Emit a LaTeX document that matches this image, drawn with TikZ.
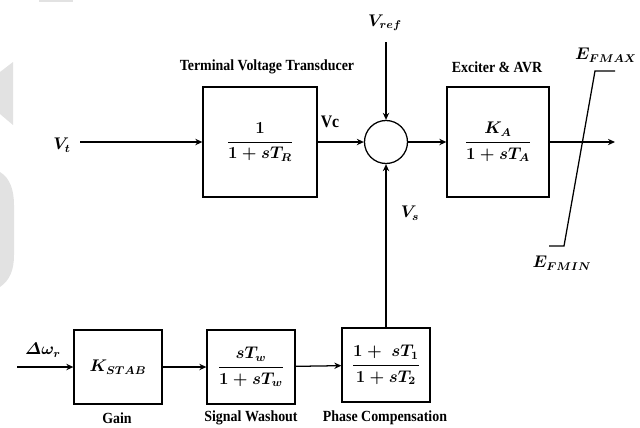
\documentclass[tikz,border=0pt]{standalone}
\usepackage{amsmath}
\usepackage{fontspec}
\setmainfont{Liberation Serif}
\usetikzlibrary{arrows.meta}
\definecolor{markgray}{RGB}{226,226,226}
\begin{document}
\begin{tikzpicture}[x = 0.025cm, y = -0.025cm, line width = 0.9pt,
  bigblock/.style = {draw, minimum height = 2.75cm, inner sep = 0pt, font = \fontsize{11.5}{13}\selectfont\boldmath},
  smallblock/.style = {draw, minimum width = 2.2cm, minimum height = 1.85cm, inner sep = 0pt, font = \fontsize{11.5}{13}\selectfont\boldmath},
  sumnode/.style = {draw, circle, minimum size = 1.075cm, inner sep = 0pt},
  title/.style = {font = \fontsize{11}{13}\selectfont\bfseries, xscale = 0.9, inner sep = 1pt},
  sig/.style = {font = \fontsize{11.5}{13}\selectfont\boldmath, inner sep = 1pt},
  flow/.style = {-{Stealth[length = 5pt, width = 4.5pt]}}]
\useasboundingbox (0,0) rectangle (640,428);
% light marks on the left edge
\fill[markgray] (39,0) rectangle (73,2);
\fill[markgray] (0,72) -- (13,62) -- (13,125) -- (0,114) -- cycle;
\fill[markgray] (0,172) .. controls (10,178) and (14,190) .. (14,205) -- (14,255) .. controls (14,270) and (10,280) .. (0,287) -- cycle;
% upper path
\node[bigblock, minimum width = 2.85cm] (tr) at (260,142) {$\displaystyle\frac{1}{1+sT_R}$};
\node[sumnode] (sum) at (386,142) {};
\node[bigblock, minimum width = 2.55cm] (ka) at (498,142) {$\displaystyle\frac{K_A}{1+sT_A}$};
\node[title] (trname) at (267,67) {Terminal Voltage Transducer};
\node[title] (kaname) at (497,67) {Exciter \& AVR};
\node[sig] (vt) at (62,145) {$V_t$};
\node[sig] (vref) at (385,23) {$V_{ref}$};
\node[title, font = \fontsize{12.5}{14}\selectfont\bfseries] (vc) at (330,122) {Vc};
\node[sig] (vs) at (410,213) {$V_s$};
\node[sig] (efmax) at (606,55) {$E_{FMAX}$};
\node[sig] (efmin) at (562,263) {$E_{FMIN}$};
\coordinate (vtin) at (80,142);
\coordinate (refin) at (386,42);
\coordinate (out) at (615,142);
\draw[flow] (vtin) -- (tr);
\draw[flow] (tr) -- (sum);
\draw[flow] (refin) -- (sum);
\draw[flow] (sum) -- (ka);
\draw[flow] (ka) -- (out);
% limiter
\draw (549,246) -- (564,246) -- (595,71) -- (615,71);
% stabilizer path
\node[smallblock] (gain) at (118,367) {$K_{STAB}$};
\node[smallblock] (wash) at (251,367) {$\displaystyle\frac{sT_w}{1+sT_w}$};
\node[smallblock] (phase) at (386,365) {$\displaystyle\frac{1+\;sT_1}{1+sT_2}$};
\node[title] (gainname) at (117,418) {Gain};
\node[title] (washname) at (251,418) {Signal Washout};
\node[title] (phasename) at (385,418) {Phase Compensation};
\node[sig] (dw) at (43,350) {$\varDelta\omega_r$};
\coordinate (dwin) at (17,367);
\draw[flow] (dwin) -- (gain);
\draw[flow] (gain) -- (wash);
\draw[flow] (wash) -- (phase);
\draw[flow] (phase.north) -- (sum.south);
\end{tikzpicture}
\end{document}
